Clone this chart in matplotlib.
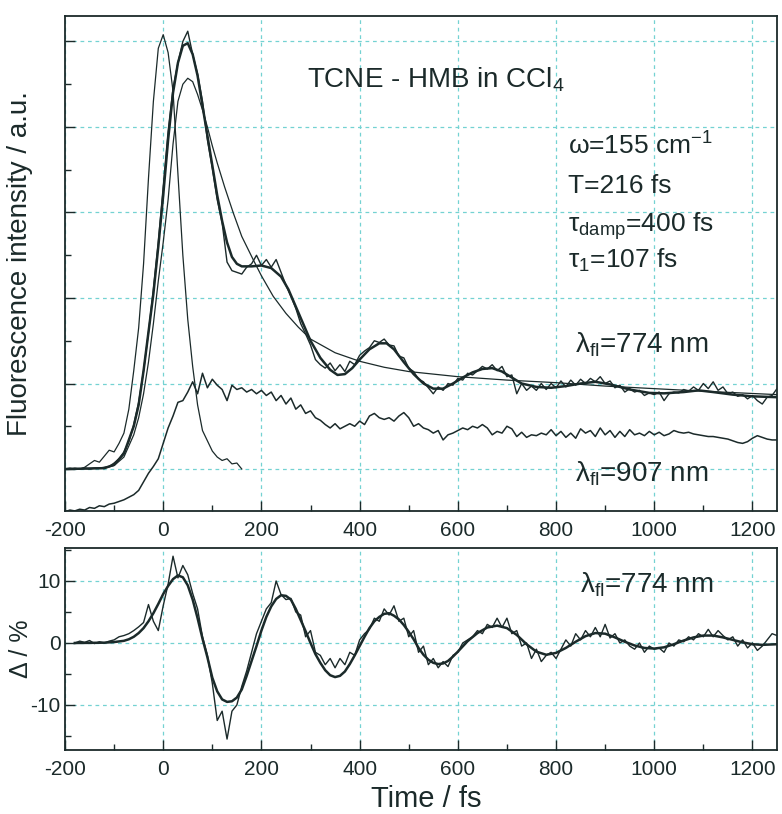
import matplotlib
matplotlib.use("Agg")
import matplotlib.pyplot as plt
from matplotlib.ticker import MultipleLocator
import numpy as np

plt.rcParams["font.family"] = ["Liberation Sans", "DejaVu Sans"]
plt.rcParams["mathtext.fontset"] = "custom"
plt.rcParams["mathtext.rm"] = "Liberation Sans"
plt.rcParams["mathtext.it"] = "Liberation Sans:italic"
plt.rcParams["mathtext.bf"] = "Liberation Sans:bold"
plt.rcParams["axes.unicode_minus"] = False

INK = "#1b2a2a"
GRID = "#74d2d2"

# ---- top panel: fluorescence transients ----
t_data = np.arange(-200, 1251, 10)

# lambda_fl = 774 nm, measured
fl774 = [
    0.00, 0.01, 0.00, 0.00, 0.01, 0.00, 0.01, 0.01, 0.02, 0.03,   # -200
    0.07, 0.12, 0.20, 0.32, 0.52, 0.78, 1.15, 1.60, 2.10, 2.65,   # -100
    3.30, 3.95, 4.45, 4.75, 5.00, 5.12, 4.85, 4.62, 4.30, 3.85,   # 0
    3.52, 3.15, 2.88, 2.42, 2.32, 2.30, 2.28, 2.36, 2.40, 2.50,   # 100
    2.38, 2.45, 2.36, 2.45, 2.30, 2.15, 2.02, 1.88, 1.70, 1.58,   # 200
    1.45, 1.28, 1.22, 1.18, 1.24, 1.15, 1.22, 1.14, 1.26, 1.22,   # 300
    1.33, 1.38, 1.42, 1.50, 1.48, 1.52, 1.45, 1.44, 1.32, 1.30,   # 400
    1.18, 1.14, 1.05, 1.02, 0.95, 0.88, 0.96, 0.92, 1.00, 0.98,   # 500
    1.06, 1.04, 1.12, 1.10, 1.15, 1.20, 1.17, 1.22, 1.15, 1.20,   # 600
    1.08, 1.10, 0.88, 1.00, 0.92, 0.97, 0.92, 1.00, 0.93, 1.00,   # 700
    0.95, 1.03, 0.96, 1.04, 0.98, 1.05, 1.00, 1.06, 1.02, 1.08,   # 800
    1.00, 1.03, 0.95, 0.98, 0.90, 0.94, 0.90, 0.92, 0.86, 0.89,   # 900
    0.87, 0.90, 0.80, 0.88, 0.90, 0.89, 0.93, 0.91, 0.96, 0.92,   # 1000
    1.00, 0.94, 1.02, 0.92, 0.96, 0.88, 0.90, 0.85, 0.87, 0.82,   # 1100
    0.86, 0.80, 0.76, 0.84, 0.86, 0.94,                           # 1200
]

# lambda_fl = 907 nm, measured
fl907 = [
    -0.50, -0.48, -0.49, -0.47, -0.48, -0.45, -0.46, -0.43, -0.44, -0.41,
    -0.40, -0.38, -0.36, -0.33, -0.30, -0.25, -0.15, -0.05, 0.03, 0.12,
    0.30, 0.48, 0.62, 0.78, 0.80, 0.90, 1.02, 0.88, 1.12, 0.95,
    1.05, 0.98, 0.93, 0.80, 0.98, 0.93, 0.95, 0.90, 0.93, 0.88,
    0.92, 0.86, 0.90, 0.80, 0.86, 0.76, 0.83, 0.70, 0.75, 0.65,
    0.68, 0.60, 0.57, 0.52, 0.48, 0.53, 0.47, 0.50, 0.53, 0.50,
    0.56, 0.52, 0.62, 0.65, 0.60, 0.58, 0.60, 0.56, 0.62, 0.66,
    0.60, 0.50, 0.53, 0.48, 0.46, 0.42, 0.45, 0.34, 0.40, 0.42,
    0.45, 0.48, 0.46, 0.50, 0.48, 0.52, 0.48, 0.40, 0.44, 0.42,
    0.50, 0.47, 0.38, 0.43, 0.37, 0.40, 0.39, 0.42, 0.40, 0.46,
    0.39, 0.44, 0.37, 0.42, 0.36, 0.47, 0.42, 0.45, 0.38, 0.48,
    0.40, 0.45, 0.37, 0.44, 0.38, 0.46, 0.40, 0.42, 0.39, 0.44,
    0.40, 0.43, 0.39, 0.41, 0.45, 0.43, 0.42, 0.43, 0.41, 0.40,
    0.39, 0.38, 0.38, 0.37, 0.36, 0.35, 0.33, 0.31, 0.30, 0.32,
    0.36, 0.39, 0.37, 0.35, 0.34, 0.34,
]

# cross-correlation (instrument response)
xc_t = [-200, -190, -180, -170, -160, -150, -140, -130, -120, -110,
        -100, -90, -80, -70, -60, -50, -40, -30, -20, -10,
        0, 10, 20, 30, 40, 50, 60, 70, 80, 90,
        100, 110, 120, 130, 140, 150, 160]
xc_v = [0.00, 0.00, 0.01, 0.00, 0.02, 0.06, 0.10, 0.08, 0.15, 0.22,
        0.20, 0.30, 0.42, 0.70, 1.15, 1.65, 2.40, 3.40, 4.30, 4.92,
        5.08, 4.87, 4.42, 3.45, 2.50, 1.75, 1.20, 0.75, 0.45, 0.33,
        0.21, 0.14, 0.10, 0.12, 0.06, 0.07, 0.00]

# fit with damped oscillation (774 nm)
fit_t = [-200, -120, -100, -80, -60, -50, -40, -30, -20, -10,
         0, 10, 20, 30, 40, 50, 60, 70, 80, 90, 100, 110, 120, 130, 140, 150, 160,
         180, 200, 220, 240, 255, 270, 285, 300, 320, 340, 355, 370, 385, 400,
         420, 440, 455, 470, 490, 510, 530, 550, 570, 590, 610, 630, 650, 670, 690,
         710, 730, 760, 790, 820, 850, 880, 910, 950, 990, 1020, 1060, 1090, 1120,
         1160, 1200, 1250]
fit_v = [0.00, 0.01, 0.05, 0.18, 0.50, 0.75, 1.15, 1.60, 2.05, 2.60,
         3.20, 3.85, 4.40, 4.75, 4.95, 4.98, 4.85, 4.60, 4.25, 3.90, 3.55, 3.20, 2.90,
         2.65, 2.48, 2.40, 2.37,
         2.37, 2.38, 2.35, 2.25, 2.10, 1.90, 1.70, 1.50, 1.30, 1.16, 1.10, 1.11, 1.18,
         1.28, 1.40, 1.47, 1.47, 1.40, 1.25, 1.11, 1.00, 0.94, 0.94, 1.00, 1.07, 1.13,
         1.17, 1.18, 1.14, 1.07, 1.00, 0.96, 0.95, 0.97, 1.00, 1.02, 0.99, 0.93, 0.89,
         0.885, 0.90, 0.92, 0.90, 0.87, 0.85, 0.84]

# fit without oscillation
exp_t = [-200, -120, -100, -80, -60, -50, -40, -30, -20, -10,
         0, 10, 20, 30, 40, 50, 60, 70, 80, 90, 100, 110,
         125, 143, 160, 184, 200, 224, 250, 275, 300,
         350, 400, 450, 500, 600, 700, 800, 900, 1000, 1100, 1250]
exp_v = [0.00, 0.01, 0.04, 0.14, 0.40, 0.60, 0.88, 1.25, 1.70, 2.20,
         2.65, 3.15, 3.80, 4.30, 4.50, 4.57, 4.53, 4.38, 4.20, 4.00, 3.78, 3.58,
         3.30, 2.99, 2.72, 2.44, 2.26, 2.02, 1.82, 1.66, 1.52,
         1.36, 1.26, 1.19, 1.14, 1.08, 1.04, 1.01, 0.97, 0.94, 0.91, 0.87]

# ---- bottom panel: oscillatory residual in % ----
t_delta = np.arange(-180, 1251, 10)
delta = [
    0.0, 0.3, 0.1, 0.4, -0.1, 0.2, 0.0, 0.3,                       # -180
    0.5, 1.0, 1.2, 1.5, 2.0, 2.6, 3.3, 6.2, 3.5, 2.0,              # -100
    6.0, 9.5, 14.0, 10.5, 12.5, 11.0, 8.0, 5.5, 1.0, -2.0,         # 0
    -6.5, -12.5, -11.0, -15.5, -11.0, -10.0, -7.0, -4.5, -1.5, 1.5,  # 100
    3.5, 5.5, 6.5, 10.0, 7.8, 7.0, 7.2, 5.0, 4.5, 1.0,             # 200
    2.0, -1.5, -2.0, -3.5, -2.5, -4.0, -2.5, -3.5, -1.5, -2.0,     # 300
    0.5, 1.5, 2.2, 4.0, 3.5, 5.5, 4.5, 6.0, 3.5, 4.0,              # 400
    1.0, 2.0, -1.5, -0.5, -3.5, -2.5, -4.0, -3.0, -3.8, -2.0,      # 500
    -1.5, 0.0, 0.5, 1.0, 2.0, 1.5, 3.0, 2.5, 4.0, 2.5,             # 600
    4.0, 1.5, 2.0, -0.5, 0.0, -2.5, -1.0, -3.0, -2.0, -1.5,        # 700
    -2.5, -1.0, 0.5, -0.5, 1.5, 0.5, 2.0, 1.0, 2.5, 1.0,           # 800
    3.0, 0.8, 1.5, 0.0, 0.5, -0.5, -1.0, 0.0, -1.5, -0.5,          # 900
    -1.0, -0.8, -1.5, 0.0, -0.5, 0.5, 0.2, 1.0, 0.5, 1.5,          # 1000
    1.0, 2.2, 1.0, 2.0, 1.2, 0.5, 1.0, -0.5, 0.5, -0.8,            # 1100
    0.0, -1.2, -0.5, 0.5, 1.5, 1.2,                                # 1200
]

dfit_t = [-180, -150, -120, -100, -80, -70, -60, -50, -40, -30, -20, -10,
          0, 10, 20, 30, 40, 50, 60, 70, 80, 90,
          100, 110, 120, 130, 140, 150, 160, 170, 180, 190,
          200, 210, 220, 230, 240, 250, 260, 270, 280, 290,
          300, 310, 320, 330, 340, 350, 360, 370, 380, 390,
          400, 410, 420, 430, 440, 450, 460, 470, 480, 490,
          500, 510, 520, 530, 540, 550, 560, 570, 580, 590, 600,
          620, 640, 660, 680, 700, 720, 740, 760, 780, 800, 820, 840, 860, 880,
          900, 920, 940, 960, 980, 1000, 1020, 1040, 1060, 1080, 1100, 1120,
          1140, 1160, 1180, 1200, 1220, 1250]
dfit_v = [0.0, 0.02, 0.05, 0.15, 0.35, 0.6, 1.0, 1.6, 2.4, 3.5, 4.8, 6.3,
          7.9, 9.2, 10.3, 10.9, 10.6, 9.3, 7.0, 4.0, 0.7, -2.3,
          -5.6, -7.8, -9.1, -9.5, -9.4, -8.8, -7.5, -5.3, -2.9, -0.5,
          2.0, 4.2, 5.9, 7.1, 7.7, 7.6, 7.0, 5.5, 3.7, 1.9,
          0.0, -1.8, -3.2, -4.4, -5.2, -5.5, -5.3, -4.6, -3.4, -2.0,
          -0.5, 1.0, 2.4, 3.5, 4.2, 4.7, 4.8, 4.4, 3.8, 2.9,
          1.8, 0.6, -0.8, -1.9, -2.7, -3.2, -3.4, -3.3, -2.9, -2.2, -1.4,
          0.3, 1.6, 2.5, 2.8, 2.4, 1.3, -0.2, -1.4, -1.9, -1.6, -0.8, 0.2, 1.1, 1.6,
          1.5, 0.9, 0.2, -0.4, -0.8, -0.9, -0.7, -0.2, 0.4, 0.9, 1.2, 1.2,
          0.9, 0.5, 0.1, -0.2, -0.3, -0.2]

fig = plt.figure(figsize=(7.82, 8.14), dpi=100)
ax1 = fig.add_axes([65 / 782, 1 - 511 / 814, 712 / 782, 495 / 814])
ax2 = fig.add_axes([65 / 782, 1 - 750 / 814, 712 / 782, 202 / 814])

for ax in (ax1, ax2):
    ax.set_xlim(-200, 1250)
    ax.xaxis.set_major_locator(MultipleLocator(200))
    ax.xaxis.set_minor_locator(MultipleLocator(100))
    ax.grid(True, which="major", color=GRID, linestyle=(0, (3, 3)), linewidth=0.9)
    ax.set_axisbelow(True)
    ax.tick_params(which="both", direction="in", colors=INK, labelcolor=INK,
                   labelsize=15, pad=7, width=1.0)
    ax.tick_params(which="major", length=7)
    ax.tick_params(which="minor", length=4)
    for sp in ax.spines.values():
        sp.set_color(INK)
        sp.set_linewidth(1.3)

# top panel
ax1.set_ylim(-0.491, 5.298)
ax1.yaxis.set_major_locator(MultipleLocator(1))
ax1.yaxis.set_minor_locator(MultipleLocator(0.5))
ax1.tick_params(axis="y", labelleft=False)
ax1.plot(xc_t, xc_v, color=INK, lw=0.9)
ax1.plot(exp_t, exp_v, color=INK, lw=0.9)
ax1.plot(t_data, fl907, color=INK, lw=1.1)
ax1.plot(t_data, fl774, color=INK, lw=1.0)
ax1.plot(fit_t, fit_v, color=INK, lw=1.8)
ax1.set_ylabel("Fluorescence intensity / a.u.", fontsize=20, color=INK)
ax1.yaxis.set_label_coords(-0.045, 0.5)

ax1.text(0.340, 0.855, "TCNE - HMB in CCl$_4$", transform=ax1.transAxes,
         fontsize=20, color=INK, va="baseline")
params = ["ω=155 cm$^{-1}$", "T=216 fs", "τ$_{\\mathrm{damp}}$=400 fs", "τ$_1$=107 fs"]
for s, y in zip(params, [0.719, 0.642, 0.5636, 0.491]):
    ax1.text(0.7065, y, s, transform=ax1.transAxes, fontsize=19, color=INK, va="baseline")
ax1.text(0.716, 0.321, "λ$_{\\mathrm{fl}}$=774 nm", transform=ax1.transAxes,
         fontsize=20, color=INK, va="baseline")
ax1.text(0.716, 0.0586, "λ$_{\\mathrm{fl}}$=907 nm", transform=ax1.transAxes,
         fontsize=20, color=INK, va="baseline")

# bottom panel
ax2.set_ylim(-17.26, 15.32)
ax2.yaxis.set_major_locator(MultipleLocator(10))
ax2.yaxis.set_minor_locator(MultipleLocator(5))
ax2.tick_params(axis="y", pad=3)
ax2.plot(t_delta, delta, color=INK, lw=1.0)
ax2.plot(dfit_t, dfit_v, color=INK, lw=1.8)
ax2.set_ylabel("Δ / %", fontsize=18, color=INK)
ax2.yaxis.set_label_coords(-0.045, 0.5)
ax2.set_xlabel("Time / fs", fontsize=21, color=INK)
ax2.xaxis.set_label_coords(0.508, -0.175)
ax2.text(0.723, 0.782, "λ$_{\\mathrm{fl}}$=774 nm", transform=ax2.transAxes,
         fontsize=20, color=INK, va="baseline")

fig.savefig("out.png", dpi=100)
